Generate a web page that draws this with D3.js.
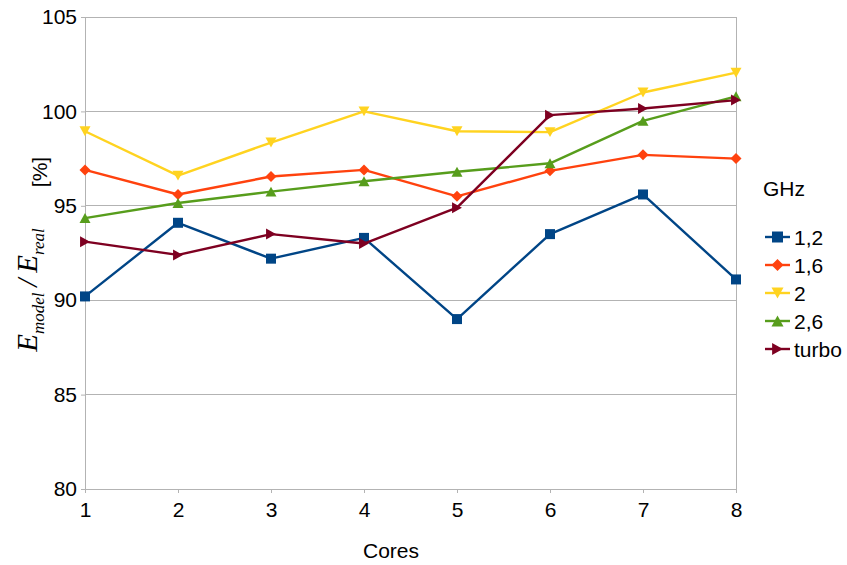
<!DOCTYPE html>
<html>
<head>
<meta charset="utf-8">
<script src="https://cdn.jsdelivr.net/npm/d3@7"></script>
<style>
  html, body { margin: 0; padding: 0; background: #fff; }
  svg { display: block; }
  text { font-family: "Liberation Sans", Arial, sans-serif; fill: #000; }
</style>
</head>
<body>
<svg id="chart" width="847" height="565"></svg>
<script>
// Energy model accuracy per core count, one series per CPU frequency
const cores = [1, 2, 3, 4, 5, 6, 7, 8];
const seriesNames = ["1,2", "1,6", "2", "2,6", "turbo"];
const v12    = [90.2, 94.1, 92.2, 93.3, 89.0, 93.5, 95.6, 91.1];
const v16    = [96.9, 95.6, 96.55, 96.9, 95.5, 96.85, 97.7, 97.5];
const v20    = [98.95, 96.6, 98.35, 100.0, 98.95, 98.9, 101.0, 102.05];
const v26    = [94.35, 95.15, 95.75, 96.3, 96.8, 97.25, 99.5, 100.8];
const vTurbo = [93.1, 92.4, 93.5, 93.0, 94.9, 99.8, 100.15, 100.6];
const yTicks = [80, 85, 90, 95, 100, 105];

const colors  = ["#004586", "#ff420e", "#ffd320", "#579d1c", "#7e0021"];
const symbols = ["square", "diamond", "triDown", "triUp", "triRight"];
const values  = [v12, v16, v20, v26, vTurbo];

const svg = d3.select("#chart");
const plotL = 85, plotR = 736, plotT = 17, plotB = 489;
const fs = 21;

const x = d3.scaleLinear().domain([1, 8]).range([plotL, plotR]);
const y = d3.scaleLinear().domain([80, 105]).range([plotB, plotT]);

const grid = "#b3b3b3";

// horizontal grid lines
svg.append("g").selectAll("line").data(yTicks).join("line")
  .attr("x1", plotL).attr("x2", plotR)
  .attr("y1", d => y(d)).attr("y2", d => y(d))
  .attr("stroke", grid).attr("stroke-width", 1).attr("shape-rendering", "crispEdges");

// left and right frame lines
svg.append("line").attr("x1", plotL).attr("x2", plotL).attr("y1", plotT).attr("y2", plotB)
  .attr("stroke", grid).attr("shape-rendering", "crispEdges");
svg.append("line").attr("x1", plotR).attr("x2", plotR).attr("y1", plotT).attr("y2", plotB)
  .attr("stroke", grid).attr("shape-rendering", "crispEdges");

// y axis
const yAxis = svg.append("g").attr("transform", `translate(${plotL},0)`)
  .call(d3.axisLeft(y).tickValues(yTicks).tickSize(4).tickPadding(4).tickFormat(d3.format("d")));
yAxis.select(".domain").remove();
yAxis.selectAll(".tick line").attr("stroke", grid);
yAxis.selectAll(".tick text").attr("font-size", fs)
  .attr("font-family", "Liberation Sans, Arial, sans-serif").attr("fill", "#000");

// x axis
const xAxis = svg.append("g").attr("transform", `translate(0,${plotB})`)
  .call(d3.axisBottom(x).tickValues(cores).tickSize(4).tickPadding(9).tickFormat(d3.format("d")));
xAxis.select(".domain").remove();
xAxis.selectAll(".tick line").attr("stroke", grid);
xAxis.selectAll(".tick text").attr("font-size", fs)
  .attr("font-family", "Liberation Sans, Arial, sans-serif").attr("fill", "#000");

// marker shapes
function markerPath(kind, s) {
  const h = s / 2;
  switch (kind) {
    case "square":   return `M${-h},${-h}H${h}V${h}H${-h}Z`;
    case "diamond":  return `M0,${-h}L${h},0L0,${h}L${-h},0Z`;
    case "triDown":  return `M${-h},${-h*0.9}L${h},${-h*0.9}L0,${h*0.9}Z`;
    case "triUp":    return `M${-h},${h*0.9}L${h},${h*0.9}L0,${-h*0.9}Z`;
    case "triRight": return `M${-h*0.9},${-h}L${h*0.9},0L${-h*0.9},${h}Z`;
  }
}

const line = d3.line().x((d, i) => x(cores[i])).y(d => y(d));

values.forEach((vals, k) => {
  const g = svg.append("g");
  g.append("path").datum(vals).attr("d", line)
    .attr("fill", "none").attr("stroke", colors[k]).attr("stroke-width", 2.4)
    .attr("stroke-linejoin", "round");
  g.selectAll("path.m").data(vals).join("path").attr("class", "m")
    .attr("transform", (d, i) => `translate(${x(cores[i])},${y(d)})`)
    .attr("d", markerPath(symbols[k], k === 0 ? 10 : 11))
    .attr("fill", colors[k]);
});

// legend
const lg = svg.append("g");
lg.append("text").attr("x", 763).attr("y", 195.5).attr("font-size", fs).text("GHz");
seriesNames.forEach((name, k) => {
  const ly = 237 + k * 28;
  lg.append("line").attr("x1", 765).attr("x2", 790).attr("y1", ly).attr("y2", ly)
    .attr("stroke", colors[k]).attr("stroke-width", 2.4);
  lg.append("path").attr("transform", `translate(777.5,${ly})`)
    .attr("d", markerPath(symbols[k], k === 0 ? 11 : 12)).attr("fill", colors[k]);
  lg.append("text").attr("x", 794).attr("y", ly + 7.5).attr("font-size", fs).text(name);
});

// axis titles
svg.append("text").attr("x", 391).attr("y", 558).attr("text-anchor", "middle")
  .attr("font-size", fs).text("Cores");

svg.append("text").attr("transform", "translate(47,172) rotate(-90)")
  .attr("text-anchor", "middle").attr("font-size", fs).text("[%]");

const yl = svg.append("text").attr("transform", "translate(37,290) rotate(-90)")
  .attr("text-anchor", "middle")
  .style("font-family", "Liberation Serif, Times New Roman, serif")
  .style("font-style", "italic").attr("font-size", 29);
yl.append("tspan").text("E");
yl.append("tspan").attr("font-size", 17).attr("dy", 7).text("model");
yl.append("tspan").attr("dy", -7).text("\u2009/\u2009");
yl.append("tspan").text("E");
yl.append("tspan").attr("font-size", 17).attr("dy", 7).text("real");
</script>
</body>
</html>
